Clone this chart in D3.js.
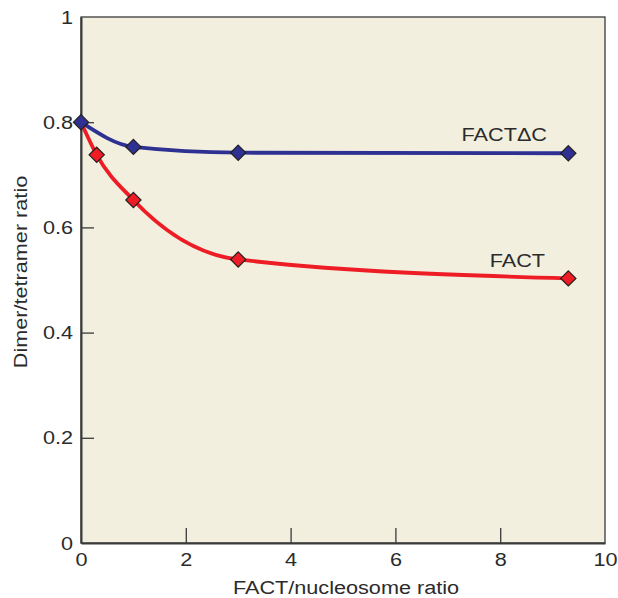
<!DOCTYPE html>
<html>
<head>
<meta charset="utf-8">
<script src="https://cdn.jsdelivr.net/npm/d3@7"></script>
<style>
  html, body { margin: 0; padding: 0; background: #ffffff; }
  svg { display: block; }
  text { font-family: "Liberation Sans", Arial, Helvetica, sans-serif; fill: #2b2b2b; }
</style>
</head>
<body>
<svg id="chart" width="618" height="598"></svg>
<script>
// ---- data ----
const factX = [0, 0.3, 1, 3, 9.3];
const factY = [0.8, 0.738, 0.652, 0.539, 0.503];
const factDeltaCX = [0, 1, 3, 9.3];
const factDeltaCY = [0.8, 0.753, 0.742, 0.741];
const xTickValues = [0, 2, 4, 6, 8, 10];
const yTickValues = [0, 0.2, 0.4, 0.6, 0.8, 1];
const xTitle = "FACT/nucleosome ratio";
const yTitle = "Dimer/tetramer ratio";
const seriesNames = ["FACT", "FACTΔC"];

// ---- layout ----
const svg = d3.select("#chart");
const pL = 81, pR = 605, pT = 17, pB = 543;
const x = d3.scaleLinear().domain([0, 10]).range([pL, pR]);
const y = d3.scaleLinear().domain([0, 1]).range([pB, pT]);
const SX = 1.14; // horizontal glyph stretch
const FS = 19;

// plot background
svg.append("rect")
  .attr("x", pL).attr("y", pT)
  .attr("width", pR - pL).attr("height", pB - pT)
  .attr("fill", "#f2efdf")
  .attr("stroke", "#3a3a3a").attr("stroke-width", 1.3);

// axes
const yAxis = d3.axisLeft(y).tickValues(yTickValues)
  .tickFormat(d => d === 0 || d === 1 ? String(d) : d3.format(".1f")(d))
  .tickSizeInner(-13).tickSizeOuter(0).tickPadding(8);
const gy = svg.append("g").attr("transform", `translate(${pL},0)`).call(yAxis);

const xAxis = d3.axisBottom(x).tickValues(xTickValues)
  .tickFormat(d3.format("d"))
  .tickSizeInner(-15).tickSizeOuter(0).tickPadding(10);
const gx = svg.append("g").attr("transform", `translate(0,${pB})`).call(xAxis);

[gx, gy].forEach(g => {
  g.select(".domain").attr("stroke", "#3a3a3a").attr("stroke-width", 2);
  g.selectAll(".tick line").attr("stroke", "#3a3a3a").attr("stroke-width", 1.3);
  g.selectAll(".tick text")
    .attr("font-size", FS)
    .attr("fill", "#2b2b2b")
    .style("font-family", '"Liberation Sans", Arial, sans-serif');
});
gy.selectAll(".tick").filter(d => d === 0 || d === 1).select("line").remove();
gx.selectAll(".tick").filter(d => d === 0 || d === 10).select("line").remove();
gy.selectAll(".tick text").attr("transform", `scale(${SX},1)`).attr("x", -8 / SX);
gx.selectAll(".tick text").attr("transform", `scale(${SX},1)`).attr("dy", "0.71em");

// axis titles
svg.append("text")
  .attr("transform", `translate(346,594) scale(${SX},1)`)
  .attr("text-anchor", "middle").attr("font-size", FS)
  .text(xTitle);
svg.append("text")
  .attr("transform", `translate(27,272) rotate(-90) scale(${SX},1)`)
  .attr("text-anchor", "middle").attr("font-size", FS)
  .text(yTitle);

// lines
const line = d3.line().x(d => x(d[0])).y(d => y(d[1])).curve(d3.curveMonotoneX);
const factData = factX.map((v, i) => [v, factY[i]]);
const dcData = factDeltaCX.map((v, i) => [v, factDeltaCY[i]]);

svg.append("path").datum(factData).attr("d", line)
  .attr("fill", "none").attr("stroke", "#ee1c25").attr("stroke-width", 3.8);
svg.append("path").datum(dcData).attr("d", line)
  .attr("fill", "none").attr("stroke", "#2e3192").attr("stroke-width", 3.8);

function drawMarkers(data, color) {
  const r = 7.6;
  svg.append("g").selectAll("path").data(data).join("path")
    .attr("d", d => {
      const cx = x(d[0]), cy = y(d[1]);
      return `M${cx},${cy - r}L${cx + r},${cy}L${cx},${cy + r}L${cx - r},${cy}Z`;
    })
    .attr("fill", color).attr("stroke", "#231f20").attr("stroke-width", 1.2);
}
drawMarkers(factData.slice(1), "#ee1c25");
drawMarkers(dcData, "#2e3192");

// series labels
svg.append("text")
  .attr("transform", `translate(547,141) scale(${SX},1)`)
  .attr("text-anchor", "end").attr("font-size", FS)
  .text(seriesNames[1]);
svg.append("text")
  .attr("transform", `translate(545,267) scale(${SX},1)`)
  .attr("text-anchor", "end").attr("font-size", FS)
  .text(seriesNames[0]);
</script>
</body>
</html>
